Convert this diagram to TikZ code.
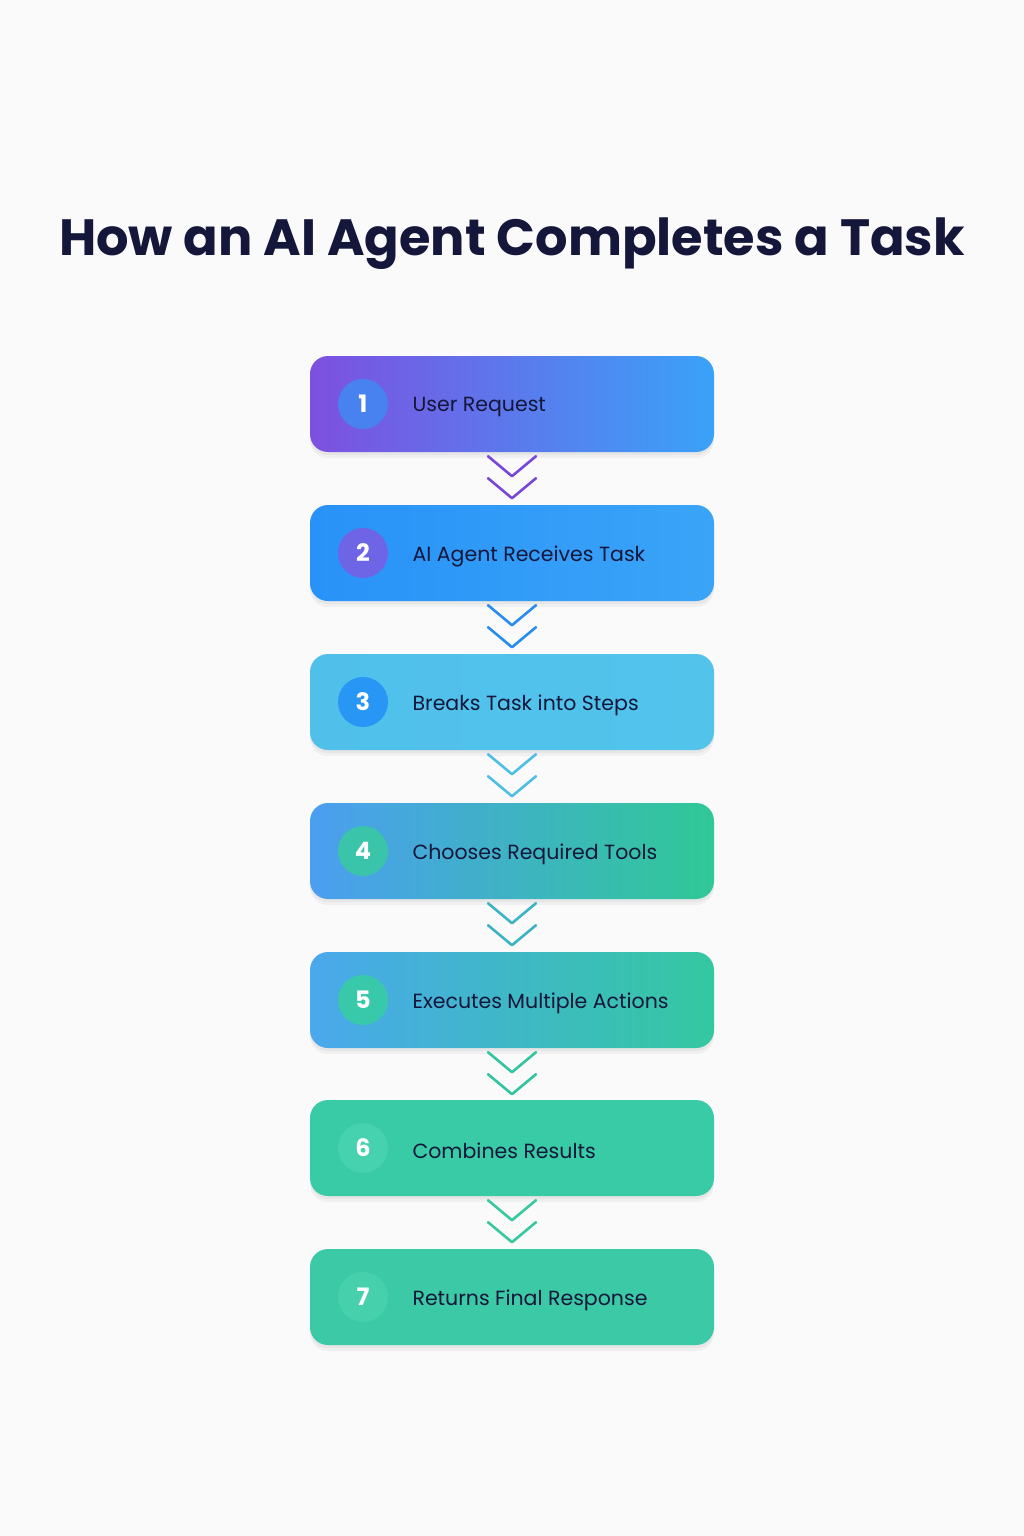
\documentclass[tikz,border=0pt]{standalone}
\usepackage{fontspec}
\setmainfont{Poppins}
\definecolor{bg}{HTML}{FAFAFB}
\definecolor{navy}{HTML}{14163A}
\definecolor{a1}{RGB}{125,80,224}\definecolor{z1}{RGB}{58,162,248}
\definecolor{a2}{RGB}{40,146,248}\definecolor{z2}{RGB}{58,164,248}
\definecolor{a3}{RGB}{80,192,234}\definecolor{z3}{RGB}{82,196,236}
\definecolor{a4}{RGB}{76,158,240}\definecolor{z4}{RGB}{48,200,150}
\definecolor{a5}{RGB}{74,168,236}\definecolor{z5}{RGB}{52,200,160}
\definecolor{a6}{RGB}{56,203,166}\definecolor{a7}{RGB}{60,202,166}
\definecolor{c1}{RGB}{72,130,240}\definecolor{c2}{RGB}{110,100,230}
\definecolor{c3}{RGB}{40,150,245}\definecolor{c4}{RGB}{58,196,170}
\definecolor{c5}{RGB}{56,200,170}\definecolor{c6}{RGB}{70,210,175}
\definecolor{c7}{RGB}{70,208,172}
\definecolor{v1}{RGB}{120,70,220}\definecolor{v2}{RGB}{40,140,240}
\definecolor{v3}{RGB}{80,190,230}\definecolor{v4}{RGB}{60,180,200}
\definecolor{v5}{RGB}{50,196,160}\definecolor{v6}{RGB}{56,200,160}
\tikzset{
 stepbox/.style={rounded corners=18pt, minimum width=404pt, minimum height=96pt, draw=none,
   preaction={fill=black, fill opacity=0.04, transform canvas={yshift=-6pt}},
   preaction={fill=black, fill opacity=0.04, transform canvas={yshift=-3pt}}},
 num/.style={circle, minimum size=50pt, inner sep=0pt, text=white, font=\fontsize{24}{24}\selectfont\bfseries},
 lab/.style={anchor=west, text=navy, font=\fontsize{20.5}{20.5}\selectfont, yshift=-3pt},
 chev/.style={line width=2.6pt, line cap=round, line join=round}
}
\begin{document}
\begin{tikzpicture}[x=1pt,y=-1pt]
\fill[bg] (0,0) rectangle (1024,1536);
\useasboundingbox (0,0) rectangle (1024,1536);
\node[text=navy, font=\fontsize{51}{51}\selectfont\bfseries] (title) at (512,244) {How an AI Agent Completes a Task};
\node[stepbox, left color=a1, right color=z1] (b1) at (512,404) {};
\node[stepbox, left color=a2, right color=z2] (b2) at (512,553) {};
\node[stepbox, left color=a3, right color=z3] (b3) at (512,702) {};
\node[stepbox, left color=a4, right color=z4] (b4) at (512,851) {};
\node[stepbox, left color=a5, right color=z5] (b5) at (512,1000) {};
\node[stepbox, fill=a6] (b6) at (512,1148) {};
\node[stepbox, fill=a7] (b7) at (512,1297) {};
\foreach \i/\y in {1/404,2/553,3/702,4/851,5/1000,6/1148,7/1297}
  \node[num, fill=c\i] (n\i) at (363,\y) {\i};
\node[lab] (l1) at (409,404) {User Request};
\node[lab] (l2) at (409,553) {AI Agent Receives Task};
\node[lab] (l3) at (409,702) {Breaks Task into Steps};
\node[lab] (l4) at (409,851) {Chooses Required Tools};
\node[lab] (l5) at (409,1000) {Executes Multiple Actions};
\node[lab] (l6) at (409,1148) {Combines Results};
\node[lab] (l7) at (409,1297) {Returns Final Response};
\foreach \i in {1,...,6}{
  \draw[chev, draw=v\i] ([xshift=-24pt,yshift=-4pt]b\i.south) -- ([yshift=-24pt]b\i.south) -- ([xshift=24pt,yshift=-4pt]b\i.south);
  \draw[chev, draw=v\i] ([xshift=-24pt,yshift=-26pt]b\i.south) -- ([yshift=-46pt]b\i.south) -- ([xshift=24pt,yshift=-26pt]b\i.south);
}
\end{tikzpicture}
\end{document}
